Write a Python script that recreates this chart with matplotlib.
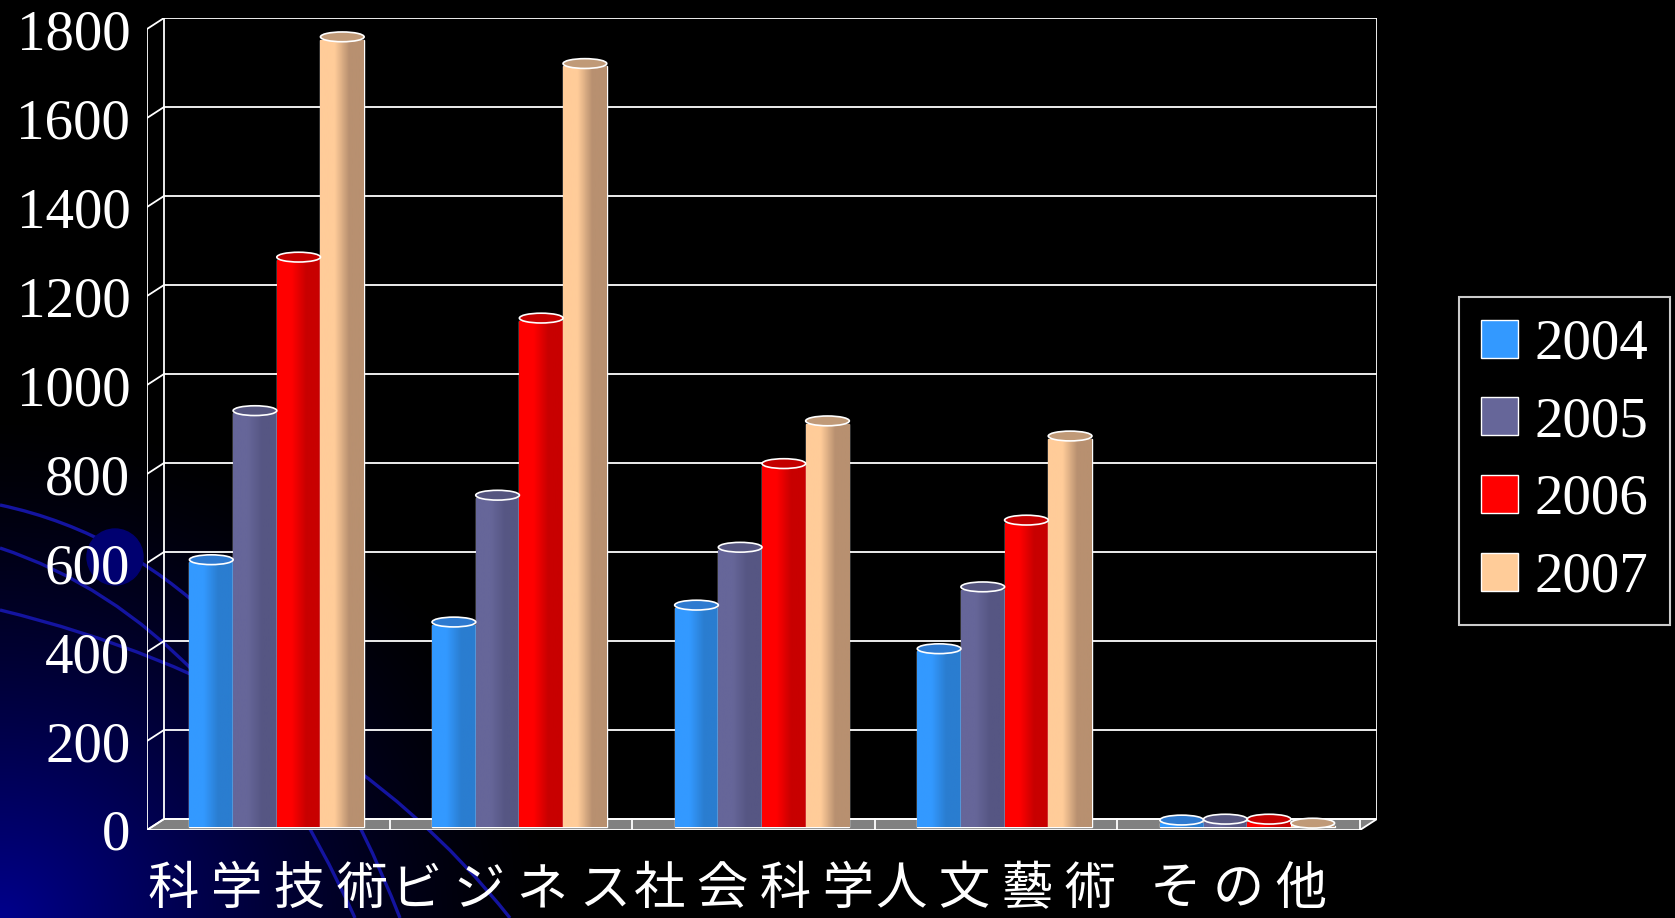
import numpy as np
import matplotlib
matplotlib.use("Agg")
import matplotlib.pyplot as plt
from matplotlib.patches import Ellipse, Polygon, PathPatch
from matplotlib.path import Path
from matplotlib.colors import LinearSegmentedColormap

# data
categories = ["科学技術", "ビジネス", "社会科学", "人文藝術", "その他"]
years = ["2004", "2005", "2006", "2007"]
v2004 = [595, 455, 493, 395, 10]
v2005 = [930, 740, 623, 534, 12]
v2006 = [1275, 1138, 811, 684, 12]
v2007 = [1770, 1710, 907, 873, 3]
series = [v2004, v2005, v2006, v2007]
yticks = [0, 200, 400, 600, 800, 1000, 1200, 1400, 1600, 1800]

# face colour, darker side, cap colour
face = ["#3399FF", "#666699", "#FF0000", "#FFCC99"]
side = ["#2A7DD0", "#565683", "#C80000", "#B89070"]
cap = ["#2E7AD0", "#55557F", "#C40000", "#C09A78"]

W, H = 1675, 918
fig = plt.figure(figsize=(W / 100, H / 100), dpi=100, facecolor="black")

# background: dark blue glow + arcs in lower left
bg = fig.add_axes([0, 0, 1, 1], zorder=0)
bg.axis("off")
yy, xx = np.mgrid[0:H:2, 0:W:2]
r = np.hypot(xx * 1.0, (H - yy) * 1.1)
glow = np.clip(1 - r / 560, 0, 1) ** 1.4
img = np.zeros(glow.shape + (3,))
img[..., 2] = 0.55 * glow
bg.imshow(img, extent=(0, W, H, 0), aspect="auto", interpolation="bilinear")
arcs = [((0, 505), (260, 560), (400, 918)),
        ((0, 548), (220, 620), (355, 918)),
        ((0, 610), (330, 690), (510, 918))]
for p0, c, p1 in arcs:
    path = Path([p0, c, p1], [Path.MOVETO, Path.CURVE3, Path.CURVE3])
    bg.add_patch(PathPatch(path, fc="none", ec="#1414A0", lw=2.4))
bg.add_patch(plt.Circle((115, 557), 28, color="#000070"))
bg.set_xlim(0, W)
bg.set_ylim(H, 0)

# main axes = the 3D box (front-left x=147, back-right x=1377, top 18, bottom 830)
ax = fig.add_axes([147 / W, (H - 830) / H, 1230 / W, 812 / H], zorder=1)
ax.patch.set_alpha(0)
for s in ax.spines.values():
    s.set_visible(False)

ncat = len(categories)
sx = 1213.5 / ncat
sy = 800.5 / 1800
DX = 8.5 / sx
DY = 5.5 / sy

lc = "white"
lw = 1.3
# floor
floor = Polygon([(-DX, -DY), (ncat - DX, -DY), (ncat + DX, DY), (DX, DY)],
                closed=True, fc="#808080", ec=lc, lw=lw, zorder=1)
ax.add_patch(floor)
# back wall gridlines and left wall diagonals
for v in yticks:
    ax.plot([DX, ncat + DX], [v + DY, v + DY], color=lc, lw=lw, zorder=1)
    ax.plot([-DX, DX], [v - DY, v + DY], color=lc, lw=lw, zorder=1)
ax.plot([DX, DX], [DY, 1800 + DY], color=lc, lw=lw, zorder=1)
ax.plot([-DX, -DX], [-DY, 1800 - DY], color=lc, lw=lw, zorder=1)
ax.plot([ncat + DX, ncat + DX], [DY, 1800 + DY], color=lc, lw=lw, zorder=1)
for i in range(1, ncat + 1):
    ax.plot([i - DX, i - DX], [-DY, DY], color=lc, lw=lw, zorder=1)

# bars
bw = 0.18
x = np.arange(ncat) + 0.5
handles = []
for j, vals in enumerate(series):
    xs = x + (j - 1.5) * bw
    bars = ax.bar(xs, vals, bw, bottom=-DY * 0.5, color=face[j], edgecolor="white",
                  lw=1.0, zorder=3 + j * 0.01, label=years[j])
    handles.append(bars)
    cmap = LinearSegmentedColormap.from_list(
        "c%d" % j, [face[j], face[j], side[j], side[j]])
    grad = np.linspace(0, 1, 64).reshape(1, -1)
    for rect, xc, v in zip(bars.patches, xs, vals):
        x0 = rect.get_x()
        im = ax.imshow(grad, extent=(x0, x0 + bw, -DY * 0.5, v), cmap=cmap,
                       aspect="auto", zorder=3 + j * 0.01)
        im.set_clip_path(rect)
        ax.add_patch(Ellipse((xc, v), bw, 22, fc=cap[j], ec="white",
                             lw=1.2, zorder=3.5 + j * 0.01))

ax.set_xlim(-DX, ncat + DX)
ax.set_ylim(-DY, 1800 + DY)

# y labels on the front plane
ax.set_xticks([])
ax.set_yticks([v - DY for v in yticks], [str(v) for v in yticks])
ax.tick_params(axis="y", length=0, pad=12, colors="white", labelsize=41)
for t in ax.get_yticklabels():
    t.set_fontfamily("Liberation Serif")

# category labels
for i, c in enumerate(categories):
    ax.text(i + 0.5 - DX, -0.073, " ".join(c), transform=ax.get_xaxis_transform(),
            ha="center", va="center", color="white", fontsize=37,
            family=["Noto Sans CJK JP", "DejaVu Sans"])

leg = fig.legend(handles=handles, labels=years, loc="upper left",
                 bbox_to_anchor=(1459 / W, 1 - 297 / H), borderaxespad=0,
                 frameon=True, fancybox=False, facecolor="black",
                 edgecolor="white", labelcolor="white",
                 prop={"family": "Liberation Serif", "size": 41},
                 handlelength=0.65, handleheight=0.65, handletextpad=0.3,
                 labelspacing=0.45, borderpad=0.38)
leg.get_frame().set_linewidth(1.5)

fig.savefig("out.png", dpi=100, facecolor="black")
